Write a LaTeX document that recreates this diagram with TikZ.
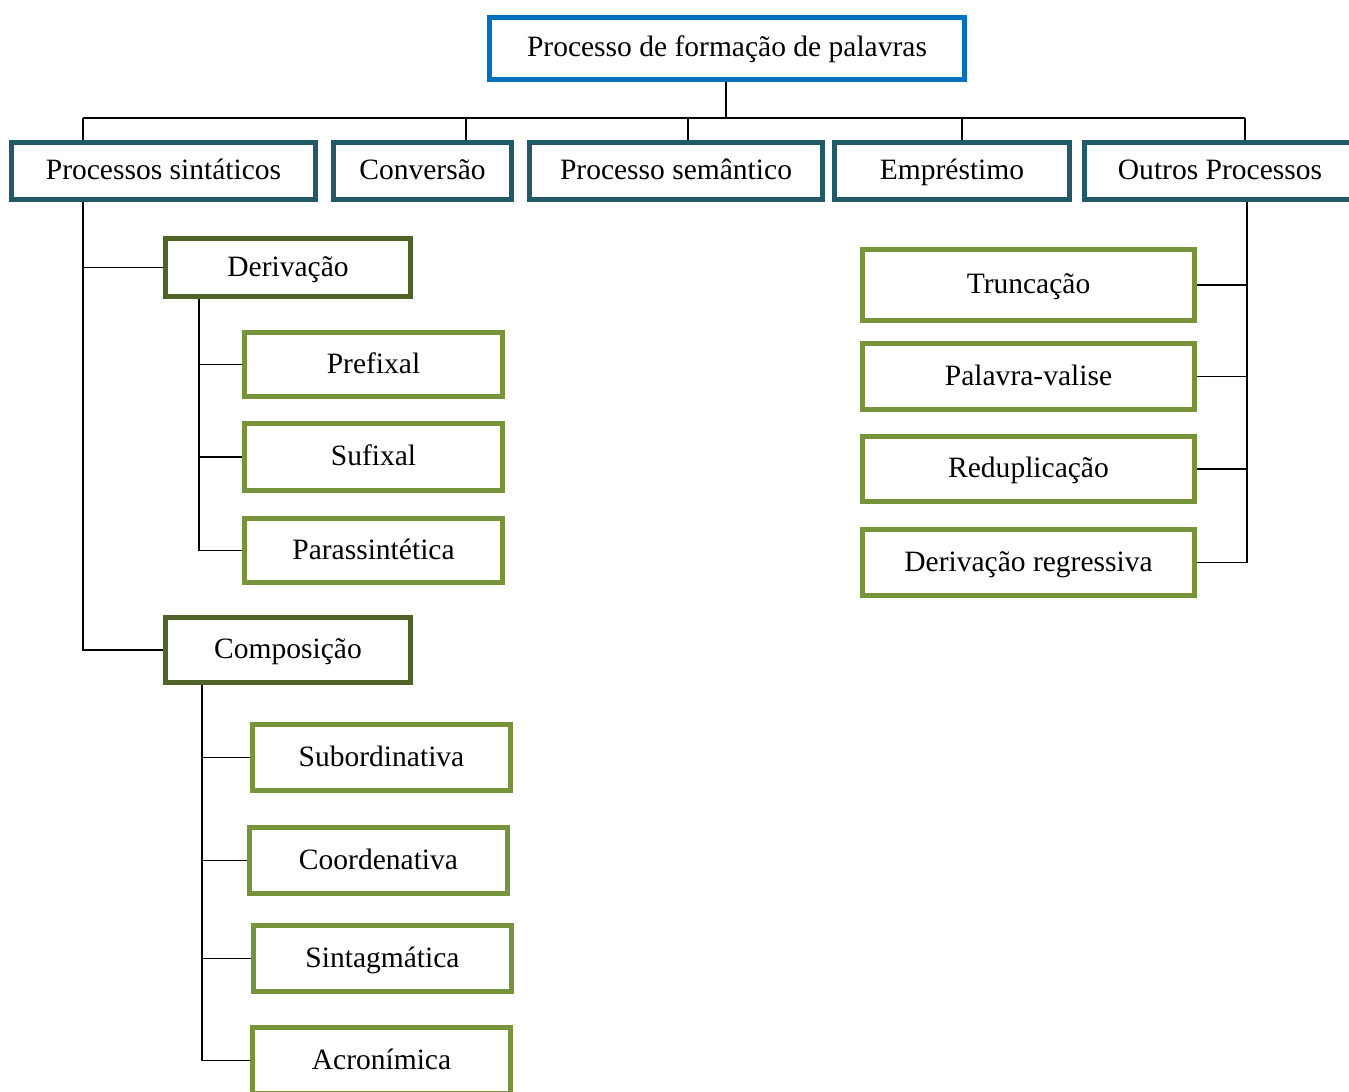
\documentclass[tikz,border=0pt]{standalone}
\usepackage{fontspec}
\setmainfont{Liberation Serif}
\usetikzlibrary{positioning}

\definecolor{topblue}{HTML}{0070C0}
\definecolor{catteal}{HTML}{215968}
\definecolor{subolive}{HTML}{4F6228}
\definecolor{leafgreen}{HTML}{77933C}

\tikzset{
  box/.style={draw, line width=3.1pt, fill=white, inner sep=0pt,
    text height=0.46cm, text depth=0.12cm,
    font=\fontsize{16.8}{20}\selectfont},
  topbox/.style={box, draw=topblue, minimum width=9.5cm, minimum height=1.24cm},
  catbox/.style={box, draw=catteal, minimum height=1.14cm},
  subbox/.style={box, draw=subolive, minimum width=4.9cm},
  leafbox/.style={box, draw=leafgreen, minimum width=5.16cm, minimum height=1.32cm},
  sidebox/.style={box, draw=leafgreen, minimum width=6.64cm, minimum height=1.32cm},
  link/.style={draw=black, line width=1.1pt}
}

\begin{document}
\begin{tikzpicture}[x=0.02cm, y=-0.02cm]
    \useasboundingbox (0,0) rectangle (1349,1092);

    % root and first level
    \node[topbox] (root) at (727,48.5) {Processo de formação de palavras};
    \node[catbox, minimum width=6.08cm] (sint) at (163.5,171) {Processos sintáticos};
    \node[catbox, minimum width=3.56cm] (conv) at (422.5,171) {Conversão};
    \node[catbox, minimum width=5.86cm] (sem)  at (676,171)   {Processo semântico};
    \node[catbox, minimum width=4.7cm]  (empr) at (952,171)   {Empréstimo};
    \node[catbox, minimum width=5.42cm] (outr) at (1220,171)  {Outros Processos};

    % processos sintaticos
    \node[subbox, minimum height=1.16cm] (deriv) at (288,267.5) {Derivação};
    \node[leafbox, minimum height=1.28cm] (pref)  at (373.5,364.5) {Prefixal};
    \node[leafbox, minimum height=1.34cm] (suf)   at (373.5,457)   {Sufixal};
    \node[leafbox, minimum height=1.28cm] (par)   at (373.5,550.5) {Parassintética};
    \node[subbox, minimum height=1.3cm] (comp) at (288,650) {Composição};
    \node[leafbox] (sub)   at (381.5,757.5)  {Subordinativa};
    \node[leafbox] (coord) at (378.5,860.5)  {Coordenativa};
    \node[leafbox] (sint2) at (382.5,958.5)  {Sintagmática};
    \node[leafbox] (acro)  at (381.5,1060.5) {Acronímica};

    % outros processos
    \node[sidebox, minimum height=1.42cm] (trunc)  at (1028.5,285)   {Truncação};
    \node[sidebox] (valise) at (1028.5,376.5) {Palavra-valise};
    \node[sidebox, minimum height=1.3cm] (redup)  at (1028.5,469)   {Reduplicação};
    \node[sidebox] (dreg)   at (1028.5,562.5) {Derivação regressiva};

    % bus under the root
    \coordinate (b1) at (83,118);
    \coordinate (b2) at (466,118);
    \coordinate (b3) at (688,118);
    \coordinate (b4) at (962,118);
    \coordinate (b5) at (1245,118);
    \draw[link] (root.south -| 726,0) -- (726,118);
    \draw[link] (b1) -- (b5);
    \draw[link] (b1) -- (b1 |- sint.north);
    \draw[link] (b2) -- (b2 |- conv.north);
    \draw[link] (b3) -- (b3 |- sem.north);
    \draw[link] (b4) -- (b4 |- empr.north);
    \draw[link] (b5) -- (b5 |- outr.north);

    % left tree
    \draw[link] (b1 |- sint.south) |- (comp.west);
    \draw[link] (b1 |- deriv.west) -- (deriv.west);
    \coordinate (dv) at (199,299);
    \draw[link] (dv) |- (par.west);
    \draw[link] (dv |- pref.west) -- (pref.west);
    \draw[link] (dv |- suf.west) -- (suf.west);
    \coordinate (cv) at (202,685);
    \draw[link] (cv) |- (acro.west);
    \draw[link] (cv |- sub.west) -- (sub.west);
    \draw[link] (cv |- coord.west) -- (coord.west);
    \draw[link] (cv |- sint2.west) -- (sint2.west);

    % right tree
    \coordinate (ov) at (1247,202);
    \draw[link] (ov) |- (dreg.east);
    \draw[link] (ov |- trunc.east) -- (trunc.east);
    \draw[link] (ov |- valise.east) -- (valise.east);
    \draw[link] (ov |- redup.east) -- (redup.east);
\end{tikzpicture}
\end{document}
